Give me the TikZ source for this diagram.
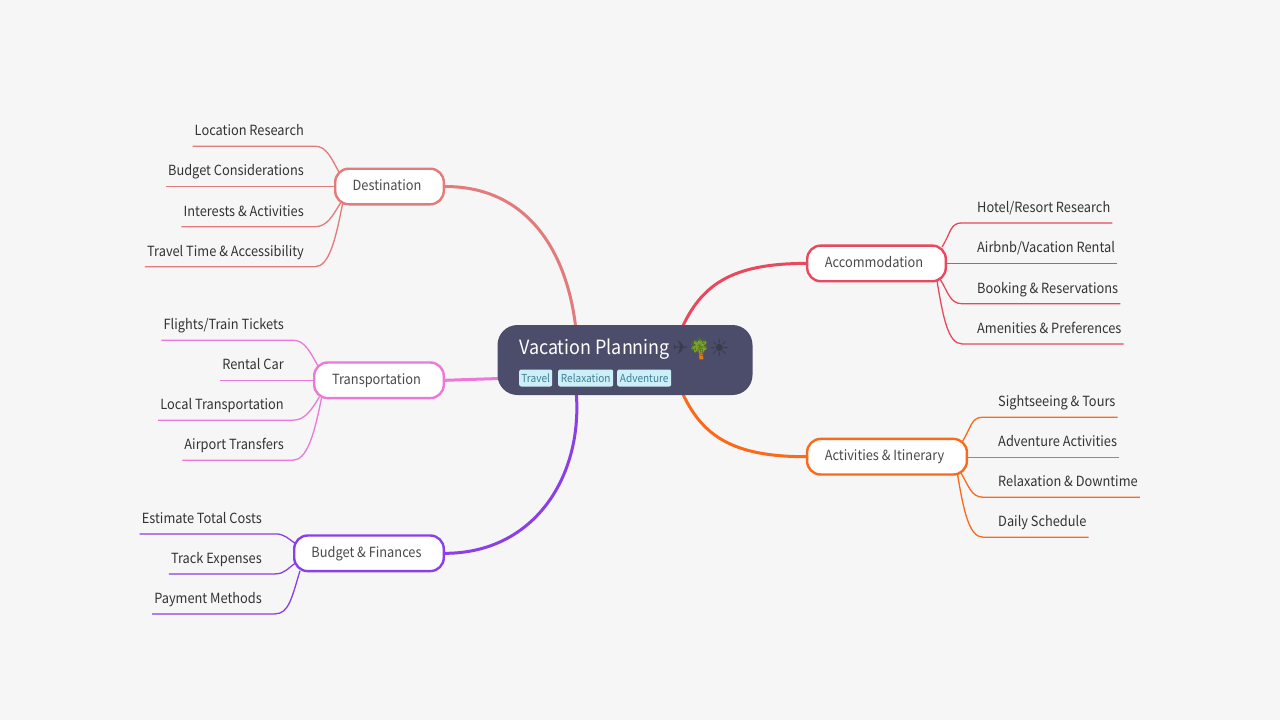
\documentclass[tikz,border=0pt]{standalone}
\usepackage{fontspec}
\setmainfont[FakeStretch=0.915]{Noto Sans CJK SC}
\newfontfamily\emojifont{Noto Emoji}
\newfontfamily\symfont{DejaVu Sans}
\usetikzlibrary{backgrounds}
\definecolor{bgc}{HTML}{F6F6F6}
\definecolor{rootc}{HTML}{4B4D6B}
\definecolor{tagc}{HTML}{CDEFF8}
\definecolor{tagt}{HTML}{3F7F95}
\definecolor{cdest}{HTML}{E27B7B}
\definecolor{cacc}{HTML}{E8495F}
\definecolor{cact}{HTML}{FB6A1A}
\definecolor{ctra}{HTML}{EC78D8}
\definecolor{cbud}{HTML}{8A3FE8}
\definecolor{txt}{HTML}{333333}
\definecolor{txtb}{HTML}{4A4A4A}
\definecolor{emo}{HTML}{3A3C4E}
\definecolor{palmg}{HTML}{7FA32E}
\definecolor{palmd}{HTML}{4F7A24}
\definecolor{palmt}{HTML}{E07A1A}
\tikzset{
 branch/.style={draw=#1,line width=2.4pt,fill=white,rounded corners=13.5pt,minimum height=35.6pt,inner sep=0pt,text height=10pt,text depth=2.5pt,text=txtb,font=\fontsize{14}{16}\selectfont},
 leafl/.style={anchor=base east,inner xsep=2pt,inner ysep=0pt,text height=10pt,text depth=10.5pt,text=txt,font=\fontsize{14}{16}\selectfont},
 leafr/.style={anchor=base west,inner xsep=2pt,inner ysep=0pt,text height=10pt,text depth=10.5pt,text=txt,font=\fontsize{14}{16}\selectfont},
 tagbox/.style={anchor=west,fill=tagc,rounded corners=2pt,inner xsep=0pt,inner ysep=0pt,minimum height=17pt,text=tagt,font=\fontsize{11}{13}\selectfont},
 thinconn/.style={draw=#1,line width=1.3pt},
 thickconn/.style={draw=#1,line width=3pt},
 leafblob/.style={palmg,line width=3.6pt,line cap=round},
}
\begin{document}
\begin{tikzpicture}[x=1pt,y=-1pt]
\useasboundingbox (0,0) rectangle (1280,720);
\begin{scope}[on background layer]
\fill[bgc] (0,0) rectangle (1280,720);
\end{scope}
% root
\node[fill=rootc,rounded corners=20pt,minimum width=255pt,minimum height=70pt,inner sep=0pt] (root) at (625,360) {};
\node[anchor=base west,inner sep=0pt,text=white,font=\fontsize{19.6}{24}\selectfont] (title) at (519,354) {Vacation Planning};
\node[anchor=center,inner sep=0pt,text=emo,font=\symfont\fontsize{19}{21}\selectfont] (plane) at (680.5,348) {✈};
% palm: coloured body under the glyph
\fill[palmt] (698.5,350) -- (702,350) -- (703.5,359.3) -- (699.5,359.5) -- cycle;
\draw[leafblob] (699.5,346) -- (693,348);
\draw[leafblob] (699.5,346) -- (695,342);
\draw[leafblob] (699.5,346) -- (700,341);
\draw[leafblob] (699.5,346) -- (705,342.5);
\draw[leafblob] (699.5,346) -- (705,348.5);
\draw[leafblob] (699.5,346) -- (695.5,351);
\draw[leafblob] (699.5,346) -- (703,351);
\node[anchor=center,inner sep=0pt,text=palmd,font=\emojifont\fontsize{18}{20}\selectfont] (palm) at (699,347) {🌴};
\node[anchor=center,inner sep=0pt,text=emo,font=\symfont\fontsize{23}{25}\selectfont] (sun) at (719.5,348) {☀};
\node[tagbox,minimum width=33pt] (t1) at (519,378) {Travel};
\node[tagbox,minimum width=55pt] (t2) at (558,378) {Relaxation};
\node[tagbox,minimum width=54pt] (t3) at (617,378) {Adventure};
% branches
\node[branch,draw=cdest,minimum width=108.6pt] (dest) at (389.5,186.5) {\hspace*{-5pt}Destination};
\node[branch,draw=ctra,minimum width=129.6pt] (tra) at (379,380.3) {\hspace*{-5pt}Transportation};
\node[branch,draw=cbud,minimum width=149.6pt] (bud) at (369,553.3) {\hspace*{-5pt}Budget \& Finances};
\node[branch,draw=cacc,minimum width=138.6pt] (acc) at (876.5,263.4) {\hspace*{-5pt}Accommodation};
\node[branch,draw=cact,minimum width=159.8pt] (act) at (887,456.7) {\hspace*{-5pt}Activities \& Itinerary};
% leaves
\node[leafl] (d1) at (306,135.5) {Location Research};
\node[leafl] (d2) at (306,175.5) {Budget Considerations};
\node[leafl] (d3) at (306,216) {Interests \& Activities};
\node[leafl] (d4) at (306,256) {Travel Time \& Accessibility};
\node[leafl] (t1l) at (286,329.5) {Flights/Train Tickets};
\node[leafl] (t2l) at (286,369.5) {Rental Car};
\node[leafl] (t3l) at (286,409.5) {Local Transportation};
\node[leafl] (t4l) at (286,449.5) {Airport Transfers};
\node[leafl] (b1) at (264,523.2) {Estimate Total Costs};
\node[leafl] (b2) at (264,563.2) {Track Expenses};
\node[leafl] (b3) at (264,603.2) {Payment Methods};
\node[leafr] (a1) at (975,212.2) {Hotel/Resort Research};
\node[leafr] (a2) at (975,252.5) {Airbnb/Vacation Rental};
\node[leafr] (a3) at (975,293) {Booking \& Reservations};
\node[leafr] (a4) at (975,333.2) {Amenities \& Preferences};
\node[leafr] (c1) at (996,406.5) {Sightseeing \& Tours};
\node[leafr] (c2) at (996,446.5) {Adventure Activities};
\node[leafr] (c3) at (996,486.5) {Relaxation \& Downtime};
\node[leafr] (c4) at (996,526.5) {Daily Schedule};
% connectors
\begin{scope}[on background layer]
\draw[thickconn=cdest] (dest.east) .. controls +(85,0) and +(-8,-75) .. ([shift={(-49,-30)}]root.center);
\draw[thickconn=cacc] (acc.west) .. controls +(-75,0) and +(20,-45) .. ([shift={(56,-30)}]root.center);
\draw[thickconn=cact] (act.west) .. controls +(-75,0) and +(20,45) .. ([shift={(56,30)}]root.center);
\draw[thickconn=cbud] (bud.east) .. controls +(90,0) and +(8,85) .. ([shift={(-49,30)}]root.center);
\draw[thickconn=ctra] (tra.east) -- ([shift={(-120,18.3)}]root.center);
% destination
\draw[thinconn=cdest] (d1.south west) -- ([xshift=9pt]d1.south east) .. controls +(12,0) and +(-8,-14) .. ([shift={(-50,-13.5)}]dest.center);
\draw[thinconn=cdest] (d2.south west) .. controls +(40,0) and +(-40,0) .. (d2.south west -| dest.west);
\draw[thinconn=cdest] (d3.south west) -- ([xshift=9pt]d3.south east) .. controls +(12,0) and +(-8,13) .. ([shift={(-49,16.5)}]dest.center);
\draw[thinconn=cdest] (d4.south west) -- ([xshift=9pt]d4.south east) .. controls +(14,0) and +(-7,36) .. ([shift={(-47,17.5)}]dest.center);
% transportation
\draw[thinconn=ctra] (t1l.south west) -- ([xshift=7pt]t1l.south east) .. controls +(12,0) and +(-8,-14) .. ([shift={(-60.5,-13.5)}]tra.center);
\draw[thinconn=ctra] (t2l.south west) .. controls +(30,0) and +(-30,0) .. (t2l.south west -| tra.west);
\draw[thinconn=ctra] (t3l.south west) -- ([xshift=7pt]t3l.south east) .. controls +(12,0) and +(-8,13) .. ([shift={(-59.5,16.5)}]tra.center);
\draw[thinconn=ctra] (t4l.south west) -- ([xshift=7pt]t4l.south east) .. controls +(14,0) and +(-7,36) .. ([shift={(-57.5,17.5)}]tra.center);
% budget
\draw[thinconn=cbud] (b1.south west) -- ([xshift=11pt]b1.south east) .. controls +(10,0) and +(-8,-5) .. ([shift={(-73,-9.5)}]bud.center);
\draw[thinconn=cbud] (b2.south west) -- ([xshift=11pt]b2.south east) .. controls +(10,0) and +(-8,5) .. ([shift={(-73,9.5)}]bud.center);
\draw[thinconn=cbud] (b3.south west) -- ([xshift=11pt]b3.south east) .. controls +(14,0) and +(-8,26) .. ([shift={(-69,17.5)}]bud.center);
% accommodation
\draw[thinconn=cacc] (a1.south east) -- ([xshift=-13pt]a1.south west) .. controls +(-12,0) and +(9,-14) .. ([shift={(65.5,-16.5)}]acc.center);
\draw[thinconn=cacc] (a2.south east) .. controls +(-40,0) and +(40,0) .. (a2.south east -| acc.east);
\draw[thinconn=cacc] (a3.south east) -- ([xshift=-13pt]a3.south west) .. controls +(-12,0) and +(8,13) .. ([shift={(63.5,15.5)}]acc.center);
\draw[thinconn=cacc] (a4.south east) -- ([xshift=-13pt]a4.south west) .. controls +(-14,0) and +(6,36) .. ([shift={(60.5,17.5)}]acc.center);
% activities
\draw[thinconn=cact] (c1.south east) -- ([xshift=-13pt]c1.south west) .. controls +(-12,0) and +(9,-14) .. ([shift={(75.5,-15.5)}]act.center);
\draw[thinconn=cact] (c2.south east) .. controls +(-40,0) and +(40,0) .. (c2.south east -| act.east);
\draw[thinconn=cact] (c3.south east) -- ([xshift=-13pt]c3.south west) .. controls +(-12,0) and +(8,13) .. ([shift={(73.5,15.5)}]act.center);
\draw[thinconn=cact] (c4.south east) -- ([xshift=-13pt]c4.south west) .. controls +(-14,0) and +(6,36) .. ([shift={(70.5,17.5)}]act.center);
\end{scope}
\end{tikzpicture}
\end{document}
